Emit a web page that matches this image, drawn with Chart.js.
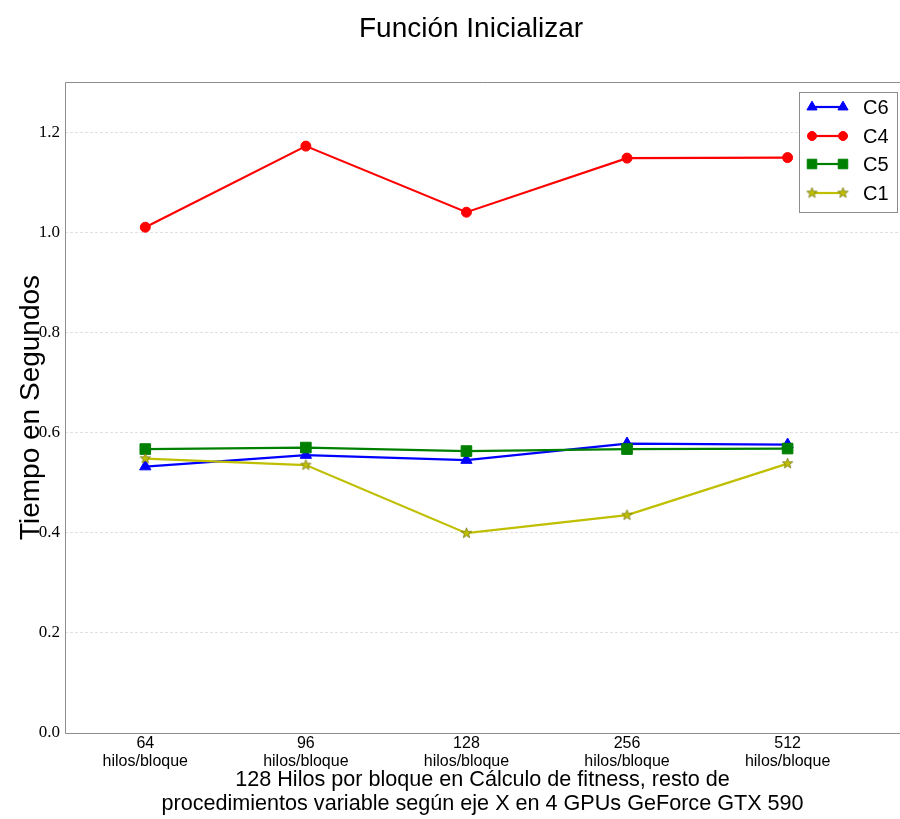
<!DOCTYPE html>
<html>
<head>
<meta charset="utf-8">
<script src="https://cdn.jsdelivr.net/npm/chart.js@4"></script>
<style>
	html, body { margin: 0; padding: 0; background: #fff; }
	canvas { display: block; }
</style>
</head>
<body>
<canvas id="chart" width="900" height="819"></canvas>
<script>
const categories = ["64", "96", "128", "256", "512"];
const c6 = [0.532, 0.555, 0.545, 0.578, 0.576];
const c4 = [1.010, 1.172, 1.040, 1.148, 1.149];
const c5 = [0.567, 0.570, 0.563, 0.567, 0.568];
const c1 = [0.548, 0.535, 0.399, 0.435, 0.538];
const yTicks = [0, 0.2, 0.4, 0.6, 0.8, 1.0, 1.2];

const SANS = "'Liberation Sans', Arial, sans-serif";
const SERIF = "'Liberation Serif', 'Times New Roman', serif";

const toPoints = values => values.map((v, i) => ({ x: i, y: v }));

// filled star marker like matplotlib's "*"
const makeStar = (r, fill, stroke) => {
	const c = document.createElement("canvas");
	const s = Math.ceil(r * 2 + 4);
	c.width = s;
	c.height = s;
	const g = c.getContext("2d");
	g.beginPath();
	for (let i = 0; i < 10; i++) {
		const rad = i % 2 === 0 ? r : r * 0.42;
		const a = -Math.PI / 2 + i * Math.PI / 5;
		const px = s / 2 + rad * Math.cos(a);
		const py = s / 2 + rad * Math.sin(a);
		if (i === 0) g.moveTo(px, py); else g.lineTo(px, py);
	}
	g.closePath();
	g.fillStyle = fill;
	g.fill();
	g.lineWidth = 0.7;
	g.strokeStyle = stroke;
	g.stroke();
	return c;
};
const starImg = makeStar(5.5, "#bfbf00", "#6f6f10");

const series = [
	{ label: "C6", data: c6, color: "#0000ff", style: "triangle", radius: 6.5, order: 4 },
	{ label: "C4", data: c4, color: "#ff0000", style: "circle", radius: 5, order: 3 },
	{ label: "C5", data: c5, color: "#008000", style: "rect", radius: 7.5, order: 2 },
	{ label: "C1", data: c1, color: "#bfbf00", style: starImg, radius: 5, order: 1 }
];

const framePlugin = {
	id: "frame",
	afterDraw(chart) {
		const { ctx, chartArea: a } = chart;
		ctx.save();
		ctx.strokeStyle = "#8c8c8c";
		ctx.lineWidth = 1;
		ctx.beginPath();
		ctx.moveTo(a.right, a.top + 0.5);
		ctx.lineTo(a.left + 0.5, a.top + 0.5);
		ctx.lineTo(a.left + 0.5, a.bottom + 0.5);
		ctx.lineTo(a.right, a.bottom + 0.5);
		ctx.stroke();

		// title
		ctx.fillStyle = "#000";
		ctx.font = `28px ${SANS}`;
		ctx.textAlign = "center";
		ctx.textBaseline = "middle";
		ctx.fillText("Función Inicializar", 471, 29);

		// legend
		const bx = 799.5, by = 92.5, bw = 98, bh = 120;
		ctx.fillStyle = "#fff";
		ctx.fillRect(bx, by, bw, bh);
		ctx.strokeStyle = "#8c8c8c";
		ctx.strokeRect(bx, by, bw, bh);
		const rows = [107, 136, 164, 193];
		series.forEach((s, i) => {
			const y = rows[i];
			ctx.strokeStyle = s.color;
			ctx.fillStyle = s.color;
			ctx.lineWidth = 2.2;
			ctx.beginPath();
			ctx.moveTo(812, y);
			ctx.lineTo(843, y);
			ctx.stroke();
			ctx.lineWidth = 1;
			[812, 843].forEach(x => {
				Chart.helpers.drawPoint(ctx, {
					pointStyle: s.style,
					radius: s.radius * 0.9,
					rotation: 0,
					borderWidth: 1
				}, x, y);
			});
			ctx.fillStyle = "#000";
			ctx.font = `20px ${SANS}`;
			ctx.textAlign = "left";
			ctx.fillText(s.label, 863, y + 1);
		});
		ctx.restore();
	}
};

new Chart(document.getElementById("chart"), {
	type: "line",
	data: {
		datasets: series.map(s => ({
			label: s.label,
			data: toPoints(s.data),
			borderColor: s.color,
			backgroundColor: s.color,
			pointBackgroundColor: s.color,
			pointBorderColor: s.color,
			pointBorderWidth: 1,
			pointStyle: s.style,
			pointRadius: s.radius,
			borderWidth: 2.2,
			tension: 0,
			order: s.order
		}))
	},
	options: {
		responsive: false,
		animation: false,
		layout: { autoPadding: false, padding: { top: 82, right: 0, left: 0, bottom: 0 } },
		plugins: {
			legend: { display: false },
			title: { display: false },
			tooltip: { enabled: false }
		},
		scales: {
			x: {
				type: "linear",
				min: -0.5,
				max: 4.7,
				afterBuildTicks: scale => {
					scale.ticks = categories.map((c, i) => ({ value: i }));
				},
				afterFit: scale => {
					scale.height = 86;
					scale.paddingLeft = 0;
					scale.paddingRight = 0;
				},
				grid: { display: false },
				border: { display: false },
				ticks: {
					padding: -6,
					maxRotation: 0,
					autoSkip: false,
					color: "#000",
					font: { family: SANS, size: 16, lineHeight: 1.1 },
					callback: value => [categories[value], "hilos/bloque"]
				},
				title: {
					display: true,
					text: [
						"128 Hilos por bloque en Cálculo de fitness, resto de",
						"procedimientos variable según eje X en 4 GPUs GeForce GTX 590"
					],
					color: "#000",
					font: { family: SANS, size: 21.6, lineHeight: 1.11 },
					padding: { top: 0, bottom: 3 }
				}
			},
			y: {
				min: 0,
				max: 1.3,
				afterBuildTicks: scale => {
					scale.ticks = yTicks.map(v => ({ value: v }));
				},
				afterFit: scale => { scale.width = 65; },
				grid: { color: "#e0e0e0", lineWidth: 1, drawTicks: false },
				border: { display: false, dash: [3, 2] },
				ticks: {
					padding: 5,
					color: "#000",
					font: { family: SERIF, size: 17 },
					callback: value => value.toFixed(1)
				},
				title: {
					display: true,
					text: "Tiempo en Segundos",
					color: "#000",
					font: { family: SANS, size: 28, lineHeight: 1.2 },
					padding: { top: 14, bottom: 0 }
				}
			}
		}
	},
	plugins: [framePlugin]
});
</script>
</body>
</html>
